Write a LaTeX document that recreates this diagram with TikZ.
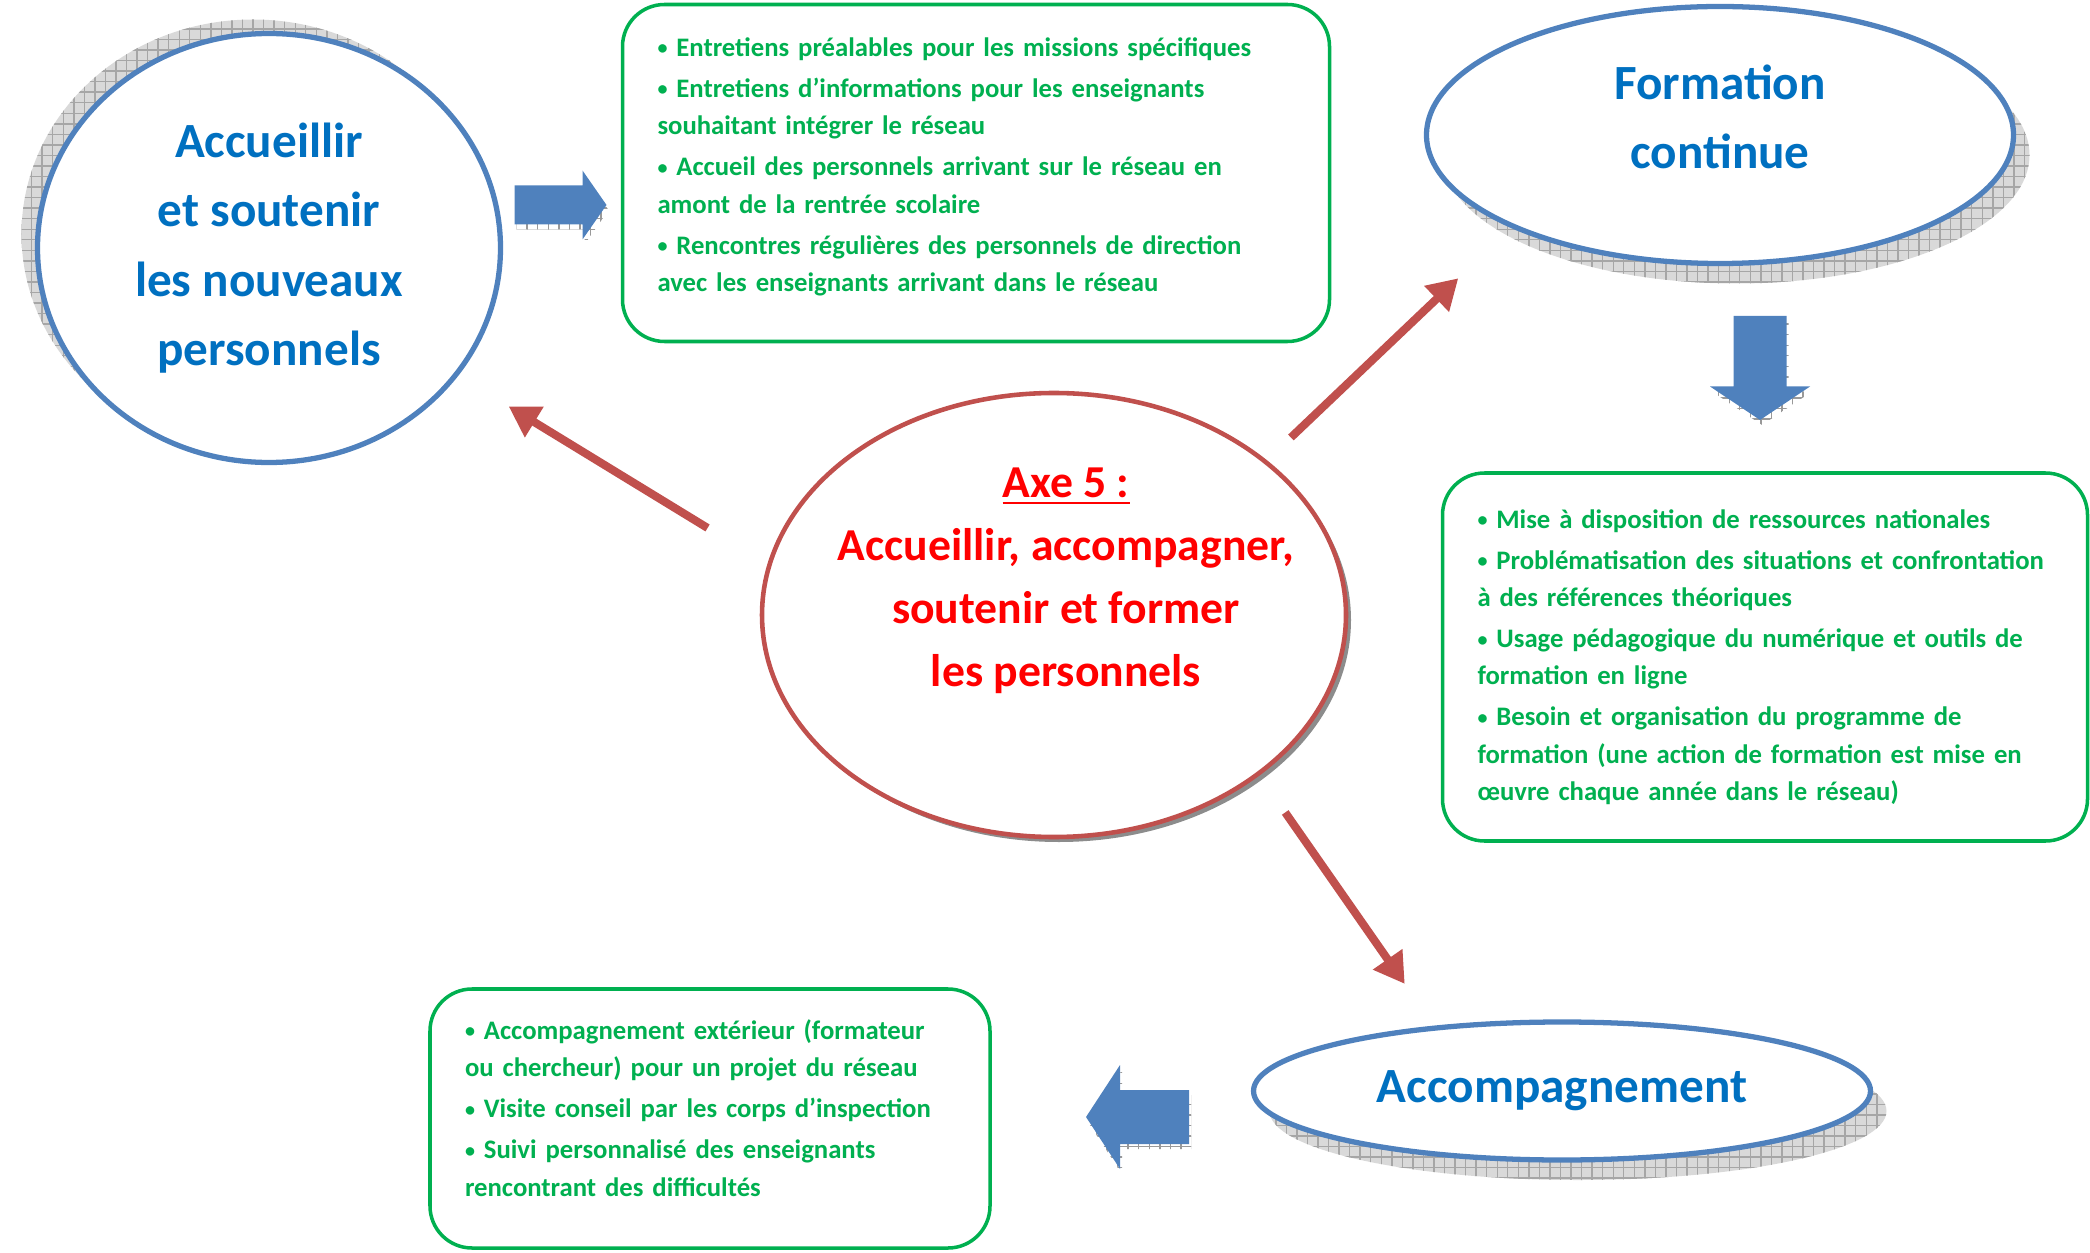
\documentclass[tikz,border=0pt]{standalone}
\usepackage{fontspec}
\setmainfont{Carlito}
\usetikzlibrary{shapes.geometric,arrows.meta,shadows,patterns}
\usepackage{xcolor}
\definecolor{axered}{RGB}{192,80,77}
\definecolor{titlered}{RGB}{255,0,0}
\definecolor{titleblue}{RGB}{0,112,192}
\definecolor{ringblue}{RGB}{79,129,189}
\definecolor{itemgreen}{RGB}{0,176,80}
\newcommand{\itemdot}{\raisebox{0.12ex}{\scalebox{0.75}{•}}}

\begin{document}
\begin{tikzpicture}[
    bluering/.style={ellipse, draw=ringblue, line width=1.5pt, fill=white, inner sep=0pt},
    hatchshadow/.style={general shadow={#1, fill=gray!30}, general shadow={#1, pattern=grid, pattern color=gray!70}},
    bluetitle/.style={text=titleblue, align=center, font=\fontsize{14pt}{19.7pt}\selectfont\bfseries},
    redtitle/.style={text=titlered, align=center, font=\fontsize{13pt}{17.9pt}\selectfont\bfseries},
    greenbox/.style={draw=itemgreen, line width=1pt, rounded corners=0.42cm, fill=white, text=itemgreen, align=left, inner xsep=0.35cm, execute at begin node={\hyphenpenalty=10000}, font=\fontsize{7.6pt}{10.6pt}\selectfont\bfseries},
    redarrow/.style={draw=axered, line width=2.3pt, -{Triangle[length=0.3cm,width=0.34cm]}},
    blockarrow/.style={fill=ringblue, preaction={pattern=grid, pattern color=gray!80, transform canvas={xshift=0.02cm, yshift=-0.05cm}}}
]
    \useasboundingbox (0,0) rectangle (20.9,12.52);

    % central axis
    \node[ellipse, draw=axered, line width=1.3pt, fill=white, general shadow={shadow xshift=0.05cm, shadow yshift=-0.05cm, fill=black!45}, minimum width=5.84cm, minimum height=4.44cm] (axe) at (10.54,6.37) {};
    \node[redtitle] (axeTxt) at ([xshift=0.12cm, yshift=0.34cm]axe.center) {\underline{Axe 5 :}\\Accueillir, accompagner,\\soutenir et former\\les personnels};

    % the three actions
    \node[bluering, hatchshadow={shadow xshift=-0.16cm, shadow yshift=0.14cm}, minimum width=4.63cm, minimum height=4.29cm, bluetitle] (accueil) at (2.69,10.04) {Accueillir\\et soutenir\\les nouveaux\\personnels};
    \node[bluering, hatchshadow={shadow xshift=0.16cm, shadow yshift=-0.2cm}, minimum width=5.87cm, minimum height=2.57cm] (form) at (17.20,11.17) {};
    \node[bluetitle] (formTxt) at ([yshift=0.18cm]form.center) {Formation\\continue};
    \node[bluering, hatchshadow={shadow xshift=0.16cm, shadow yshift=-0.2cm}, minimum width=6.17cm, minimum height=1.38cm, bluetitle] (accomp) at (15.62,1.61) {Accompagnement};

    % detail boxes
    \node[greenbox, minimum height=3.37cm, text width=6.37cm] (accBox) at (9.76,10.79) {%
        \itemdot{} Entretiens préalables pour les missions spécifiques\\[1.1pt]
        \itemdot{} Entretiens d’informations pour les enseignants\\
        souhaitant intégrer le réseau\\[1.1pt]
        \itemdot{} Accueil des personnels arrivant sur le réseau en\\
        amont de la rentrée scolaire\\[1.1pt]
        \itemdot{} Rencontres régulières des personnels de direction\\
        avec les enseignants arrivant dans le réseau\\[-5.8pt]\mbox{}};
    \node[greenbox, minimum height=3.68cm, text width=5.75cm] (formBox) at (17.65,5.95) {%
        \itemdot{} Mise à disposition de ressources nationales\\[1.1pt]
        \itemdot{} Problématisation des situations et confrontation\\
        à des références théoriques\\[1.1pt]
        \itemdot{} Usage pédagogique du numérique et outils de\\
        formation en ligne\\[1.1pt]
        \itemdot{} Besoin et organisation du programme de\\
        formation (une action de formation est mise en\\
        œuvre chaque année dans le réseau)};
    \node[greenbox, minimum height=2.59cm, text width=4.90cm] (accompBox) at (7.10,1.335) {%
        \itemdot{} Accompagnement extérieur (formateur\\
        ou chercheur) pour un projet du réseau\\[1.1pt]
        \itemdot{} Visite conseil par les corps d’inspection\\[1.1pt]
        \itemdot{} Suivi personnalisé des enseignants\\
        rencontrant des difficultés\\[-4.6pt]\mbox{}};

    % red arrows from the axis
    \draw[redarrow, shorten <=0.70cm, shorten >=0.59cm] (axe.170) -- (accueil.-34);
    \draw[redarrow, shorten <=0.33cm, shorten >=0.73cm] (axe.36) -- (form.-156);
    \draw[redarrow, shorten <=0.45cm, shorten >=0.51cm] (axe.-38) -- (accomp.153);

    % blue block arrows towards the boxes
    \coordinate (arrRtail) at (5.145,10.47);
    \coordinate (arrDtail) at (17.6,9.36);
    \coordinate (arrLtail) at (11.89,1.35);
    \fill[blockarrow] (arrRtail) ++(0,0.195) -- ++(0.68,0) -- ++(0,0.15) -- ++(0.24,-0.345) -- ++(-0.24,-0.345) -- ++(0,0.15) -- ++(-0.68,0) -- cycle;
    \fill[blockarrow] (arrDtail) ++(-0.265,0) -- ++(0,-0.705) -- ++(-0.235,0) -- ++(0.5,-0.335) -- ++(0.5,0.335) -- ++(-0.235,0) -- ++(0,0.705) -- cycle;
    \fill[blockarrow] (arrLtail) ++(0,0.27) -- ++(-0.69,0) -- ++(0,0.25) -- ++(-0.34,-0.52) -- ++(0.34,-0.52) -- ++(0,0.25) -- ++(0.69,0) -- cycle;
\end{tikzpicture}
\end{document}
